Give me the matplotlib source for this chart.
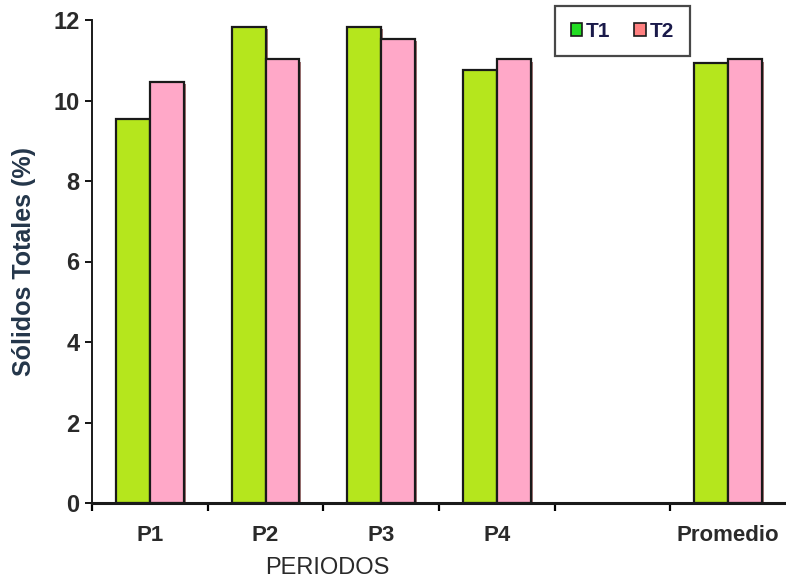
import matplotlib
matplotlib.use("Agg")
import matplotlib.pyplot as plt
import matplotlib.patheffects as pe
from matplotlib.patches import Patch
import numpy as np

plt.rcParams['font.family'] = ['Liberation Sans', 'DejaVu Sans']

categories = ["P1", "P2", "P3", "P4", "", "Promedio"]
t1 = [9.55, 11.82, 11.82, 10.77, np.nan, 10.92]
t2 = [10.47, 11.02, 11.52, 11.02, np.nan, 11.02]
series_names = ["T1", "T2"]
yticks = [0, 2, 4, 6, 8, 10, 12]

green = "#B5E61D"
pink = "#FFA8C8"

fig = plt.figure(figsize=(7.86, 5.82), dpi=100)
ax = fig.add_axes([92/786, 79/582, 694/786, (503-20)/582])

x = np.arange(len(categories))
w = 0.293
shadow = [pe.SimplePatchShadow(offset=(1.5, -1.5), shadow_rgbFace='#6a2020', alpha=0.6), pe.Normal()]
b1 = ax.bar(x - w/2, t1, width=w, color=green, edgecolor='#1a1a1a', linewidth=1.6)
b2 = ax.bar(x + w/2, t2, width=w, color=pink, edgecolor='#1a1a1a', linewidth=1.6)
for b in list(b1) + list(b2):
    b.set_path_effects(shadow)

ax.set_xlim(-0.5, len(categories) - 0.5)
ax.set_ylim(0, 12)
ax.set_yticks(yticks)
ax.set_yticklabels([str(v) for v in yticks], fontsize=17, fontweight='bold', color='#2a2a2a')
ax.tick_params(axis='y', direction='out', length=5, width=1.3, pad=4)

ax.set_xticks(np.arange(-0.5, len(categories) - 0.5, 1.0))
ax.set_xticklabels([])
ax.tick_params(axis='x', which='major', direction='out', length=6, width=1.6)
ax.set_xticks(x, minor=True)
ax.set_xticklabels(categories, minor=True, fontsize=16, fontweight='bold', color='#2a2a2a')
ax.tick_params(axis='x', which='minor', length=0, pad=16)

for s in ['top', 'right']:
    ax.spines[s].set_visible(False)
ax.spines['left'].set_linewidth(1.4)
ax.spines['bottom'].set_linewidth(2.2)
ax.spines['left'].set_color('#1a1a1a')
ax.spines['bottom'].set_color('#1a1a1a')

ax.set_ylabel("Sólidos Totales (%)", fontsize=18, fontweight='bold', color='#24364a', labelpad=12)
ax.set_xlabel("PERIODOS", fontsize=17, color='#2a2a2a', labelpad=8, x=(327-92)/694)

handles = [Patch(facecolor='#22DD22', edgecolor='#1a1a1a', linewidth=1.2),
           Patch(facecolor='#FF8080', edgecolor='#1a1a1a', linewidth=1.2)]
leg = fig.legend(handles, series_names, loc='upper left', ncol=2,
                 bbox_to_anchor=(555/786, 1 - 6/582, 135/786, 0), bbox_transform=fig.transFigure,
                 mode='expand', fontsize=15, handlelength=0.55, handleheight=0.55,
                 handletextpad=0.2, columnspacing=1.5, borderpad=0.75, frameon=True,
                 fancybox=False, borderaxespad=0)
leg.get_frame().set_edgecolor('#1a1a1a')
leg.get_frame().set_linewidth(1.6)
for t in leg.get_texts():
    t.set_color('#1a1a4a')
    t.set_fontweight('bold')

fig.savefig("out.png", dpi=100)
